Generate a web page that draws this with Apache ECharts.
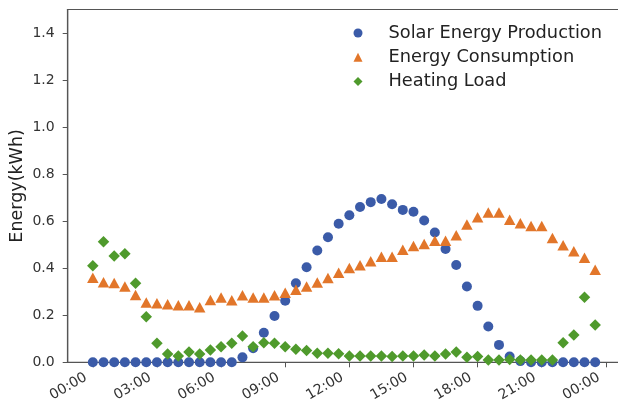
<!DOCTYPE html>
<html>
<head>
<meta charset="utf-8">
<script src="https://cdn.jsdelivr.net/npm/echarts@6/dist/echarts.min.js"></script>
<style>
html,body{margin:0;padding:0;background:#fff;}
#chart{width:618px;height:409px;}
</style>
</head>
<body>
<div id="chart"></div>
<script>
// Time of day in hours (half-hour samples)
const hours = [0,0.5,1,1.5,2,2.5,3,3.5,4,4.5,5,5.5,6,6.5,7,7.5,8,8.5,9,9.5,10,10.5,11,11.5,
  12,12.5,13,13.5,14,14.5,15,15.5,16,16.5,17,17.5,18,18.5,19,19.5,20,20.5,21,21.5,22,22.5,23,23.5];

const solarProduction = [0,0,0,0,0,0,0,0,0,0,0,0,0,0,
  0.021,0.06,0.126,0.197,0.262,0.336,0.404,0.475,0.532,0.589,
  0.625,0.66,0.681,0.694,0.672,0.648,0.64,0.603,0.552,0.482,
  0.414,0.322,0.24,0.152,0.074,0.025,0.005,0,0,0,
  0,0,0,0];

const energyConsumption = [0.36,0.34,0.337,0.322,0.286,0.254,0.251,0.247,0.243,0.243,
  0.234,0.265,0.275,0.264,0.285,0.275,0.275,0.285,0.296,0.308,
  0.322,0.339,0.358,0.381,0.401,0.413,0.43,0.449,0.449,0.478,
  0.495,0.503,0.517,0.517,0.54,0.586,0.617,0.637,0.637,0.606,
  0.591,0.58,0.58,0.528,0.498,0.472,0.444,0.393];

const heatingLoad = [0.41,0.513,0.452,0.461,0.336,0.194,0.081,0.035,0.027,0.044,
  0.035,0.052,0.066,0.081,0.112,0.066,0.083,0.081,0.066,0.055,
  0.05,0.038,0.038,0.036,0.027,0.027,0.027,0.027,0.025,0.027,
  0.027,0.031,0.027,0.035,0.044,0.021,0.025,0.01,0.01,0.012,
  0.01,0.01,0.01,0.01,0.083,0.116,0.277,0.159];

const xTickValues = [0,3,6,9,12,15,18,21,24];
const xTickLabels = ['00:00','03:00','06:00','09:00','12:00','15:00','18:00','21:00','00:00'];
const yTickValues = [0,0.2,0.4,0.6,0.8,1.0,1.2,1.4];
const yTickLabels = ['0.0','0.2','0.4','0.6','0.8','1.0','1.2','1.4'];

const seriesNames = ['Solar Energy Production','Energy Consumption','Heating Load'];
const colors = ['#3b5ba8','#e2762a','#4f9a2c'];

const pair = (ys) => hours.map((h, i) => [h, ys[i]]);

const FONT = 'DejaVu Sans';
const chart = echarts.init(document.getElementById('chart'), null, {renderer: 'canvas'});
chart.setOption({
  animation: false,
  backgroundColor: '#ffffff',
  textStyle: {fontFamily: FONT},
  grid: {
    left: 67.7, top: 9.5, right: -2.3, bottom: 46.7,
    outerBoundsMode: 'none', containLabel: false,
    show: true, borderColor: '#555', borderWidth: 1.2, backgroundColor: 'transparent'
  },
  legend: {
    orient: 'vertical',
    left: 353.5, top: 24, padding: 0,
    itemWidth: 9, itemHeight: 9, itemGap: 6.3,
    textStyle: {fontFamily: FONT, fontSize: 17.8, color: '#222', lineHeight: 18, padding: [0, 0, 0, 21]},
    data: [
      {name: seriesNames[0], icon: 'circle'},
      {name: seriesNames[1], icon: 'triangle'},
      {name: seriesNames[2], icon: 'diamond'}
    ]
  },
  xAxis: {
    type: 'value', min: -1.175, max: 24.675,
    splitLine: {show: false},
    axisLine: {show: true, onZero: false, lineStyle: {color: '#555', width: 1.2}},
    axisTick: {show: true, length: 5, customValues: xTickValues, lineStyle: {color: '#555'}},
    axisLabel: {
      customValues: xTickValues, rotate: 30, margin: 10, padding: [0, 8, 0, 0],
      fontFamily: FONT, fontSize: 14, color: '#333',
      formatter: (v) => { const i = xTickValues.indexOf(v); return i >= 0 ? xTickLabels[i] : ''; }
    }
  },
  yAxis: {
    type: 'value', min: 0, max: 1.5,
    splitLine: {show: false},
    axisLine: {show: true, onZero: false, lineStyle: {color: '#555', width: 1.2}},
    axisTick: {show: true, length: 5, customValues: yTickValues, lineStyle: {color: '#555'}},
    axisLabel: {
      customValues: yTickValues, margin: 13,
      fontFamily: FONT, fontSize: 14, color: '#333',
      formatter: (v) => { const i = yTickValues.findIndex(t => Math.abs(t - v) < 1e-9); return i >= 0 ? yTickLabels[i] : ''; }
    },
    name: 'Energy(kWh)', nameLocation: 'middle', nameGap: 41, nameMoveOverlap: false,
    nameTextStyle: {fontFamily: FONT, fontSize: 17.5, color: '#222'}
  },
  series: [
    {name: seriesNames[0], type: 'scatter', symbol: 'circle', symbolSize: 10, clip: false,
     itemStyle: {color: colors[0], opacity: 1}, data: pair(solarProduction)},
    {name: seriesNames[1], type: 'scatter', symbol: 'triangle', symbolSize: [11.5, 10.5], clip: false,
     itemStyle: {color: colors[1], opacity: 1}, data: pair(energyConsumption)},
    {name: seriesNames[2], type: 'scatter', symbol: 'diamond', symbolSize: [11.5, 11.5], clip: false,
     itemStyle: {color: colors[2], opacity: 1}, data: pair(heatingLoad)}
  ]
});
</script>
</body>
</html>
